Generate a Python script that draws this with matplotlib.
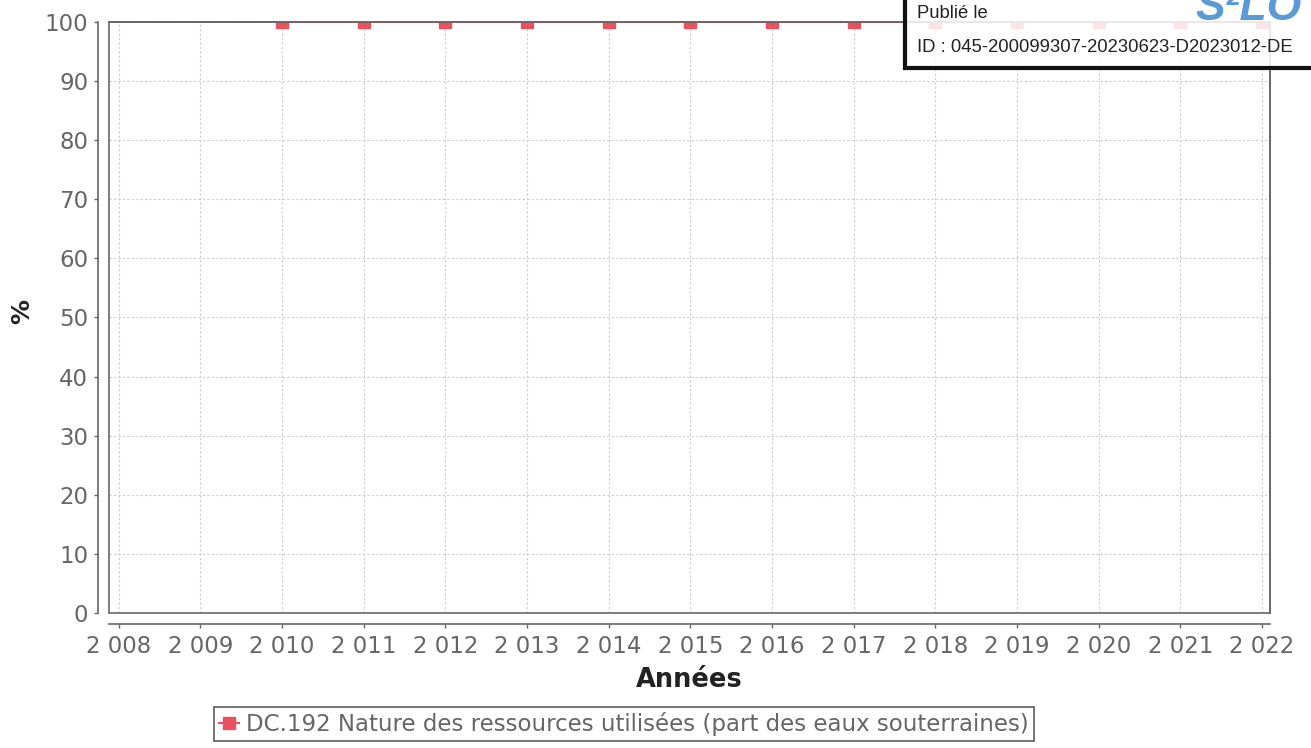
import matplotlib
matplotlib.use("Agg")
import matplotlib.pyplot as plt
from matplotlib.patches import Rectangle
from matplotlib.lines import Line2D

years_axis = list(range(2008, 2023))
years = [2010, 2011, 2012, 2013, 2014, 2015, 2016, 2017, 2018, 2019, 2020, 2021, 2022]
values = [100, 100, 100, 100, 100, 100, 100, 100, 100, 100, 100, 100, 100]
yticks = [0, 10, 20, 30, 40, 50, 60, 70, 80, 90, 100]
series_label = "DC.192 Nature des ressources utilisées (part des eaux souterraines)"

W, H = 1311, 748
fig = plt.figure(figsize=(W / 100, H / 100), dpi=100)
plt.rcParams['font.family'] = ['DejaVu Sans']

L, R, T, B = 109, 1270, 22, 613
ax = fig.add_axes([L / W, 1 - B / H, (R - L) / W, (B - T) / H])
ax.set_xlim(2007.88, 2022.1)
ax.set_ylim(0, 100)

gray = '#666666'
red = '#e8525c'

ax.plot(years, values, color=red, lw=1.5, marker='s', markersize=9,
        markeredgecolor=red, markerfacecolor=red, clip_on=True, zorder=3)

ax.grid(True, color='#cccccc', linestyle=(0, (2, 2)), linewidth=0.8)
ax.set_axisbelow(True)

for s in ['top', 'right']:
    ax.spines[s].set_color(gray)
    ax.spines[s].set_linewidth(1.2)
for s in ['left', 'bottom']:
    ax.spines[s].set_position(('outward', 8))
    ax.spines[s].set_color(gray)
    ax.spines[s].set_linewidth(1.2)
ax.add_patch(Rectangle((0, 0), 1, 1, transform=ax.transAxes, fill=False,
                       edgecolor=gray, linewidth=1.2, zorder=4, clip_on=False))

ax.set_xticks(years_axis)
ax.set_xticklabels([f"{y:,}".replace(",", " ") for y in years_axis])
ax.set_yticks(yticks)
ax.tick_params(axis='both', colors=gray, labelsize=16.5, length=3, width=1)
ax.tick_params(axis='x', pad=5)
ax.tick_params(axis='y', pad=4)
for lab in ax.get_xticklabels() + ax.get_yticklabels():
    lab.set_color('#666666')

ax.set_xlabel("Années", fontsize=18.5, fontweight='bold', color='#222222', labelpad=6)
fig.text(22 / W, 1 - 312 / H, "%", fontsize=18, fontweight='bold', color='#222222',
         rotation=90, ha='center', va='center')

handle = Line2D([0], [0], color=red, lw=1.5, marker='s', markersize=8,
                markerfacecolor=red, markeredgecolor=red)
leg = fig.legend([handle], [series_label], loc='center',
                 bbox_to_anchor=(624 / W, 1 - 724 / H), fontsize=16.5,
                 frameon=True, fancybox=False, handlelength=0.9,
                 handletextpad=0.3, borderpad=0.2, borderaxespad=0)
leg.get_frame().set_edgecolor('#333333')
leg.get_frame().set_linewidth(1.2)
for t in leg.get_texts():
    t.set_color('#666666')

# stamp overlay
fig.patches.append(Rectangle((905 / W, 1 - 68 / H), (W + 10 - 905) / W, 80 / H,
                             transform=fig.transFigure, facecolor=(1, 1, 1, 0.85),
                             edgecolor='#111111', linewidth=3, zorder=10))
fig.text(1195 / W, 1 - 20 / H, "S\u00b2LO", color='#5b9bd5', fontsize=32,
         fontstyle='italic', fontweight='bold', family='Liberation Sans',
         va='baseline', ha='left', zorder=11)
fig.text(917 / W, 1 - 13 / H, "Publié le", fontsize=13.3, family='Liberation Sans',
         color='#222222', va='center', ha='left', zorder=11)
fig.text(917 / W, 1 - 47 / H, "ID : 045-200099307-20230623-D2023012-DE", fontsize=13.3,
         family='Liberation Sans', color='#222222', va='center', ha='left', zorder=11)

fig.savefig("out.png", dpi=100)
